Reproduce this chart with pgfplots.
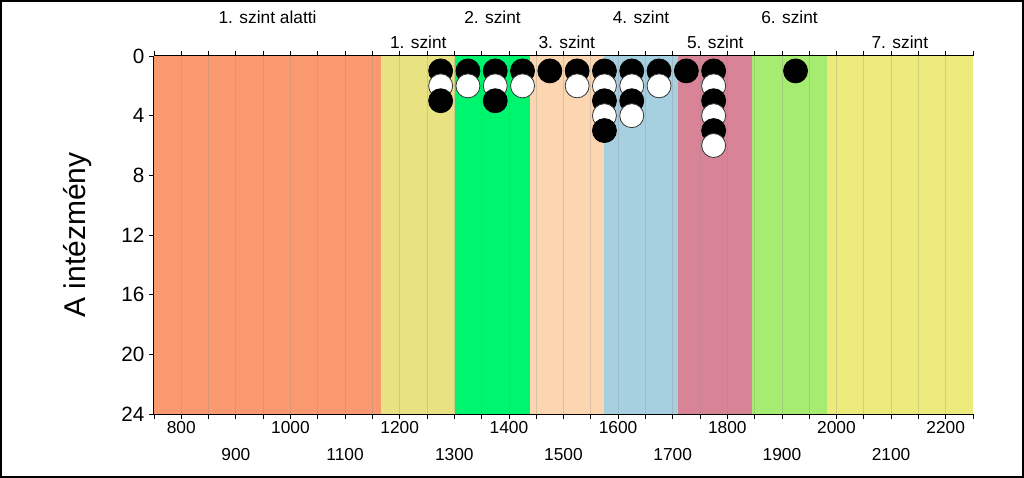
\documentclass[border=0pt]{standalone}
\usepackage{pgfplots}
\pgfplotsset{compat=1.18}
\usepackage{fontspec}
\setmainfont{Liberation Sans}
\definecolor{bOrange}{RGB}{250,152,112}
\definecolor{bYellowA}{RGB}{232,226,130}
\definecolor{bGreen}{RGB}{0,245,110}
\definecolor{bPeach}{RGB}{252,214,176}
\definecolor{bBlue}{RGB}{166,208,224}
\definecolor{bPink}{RGB}{216,132,150}
\definecolor{bLGreen}{RGB}{166,236,112}
\definecolor{bYellowB}{RGB}{236,234,122}
\begin{document}
\begin{tikzpicture}
\begin{axis}[
  scale only axis, width=614.25pt, height=268.5pt,
  at={(0pt,0pt)}, anchor=south west,
  xmin=750, xmax=2250, ymin=0, ymax=24, y dir=reverse,
  axis y line*=left,
  clip=false,
  xtick={800,1000,...,2200},
  extra x ticks={900,1100,...,2100},
  extra x tick style={xticklabel style={yshift=-20.25pt}},
  minor xtick={750,800,...,2250},
  xtick pos=both, xticklabel pos=lower,
  tick align=outside,
  major tick length=3.75pt, minor tick length=3.75pt,
  ytick={0,4,...,24},
  /pgf/number format/assume math mode=true,
  /pgf/number format/1000 sep={},
  xticklabel style={font=\fontsize{13}{15}\selectfont, yshift=1.5pt},
  yticklabel style={font=\fontsize{15.5}{18}\selectfont},
  ylabel={A intézmény},
  ylabel style={font=\fontsize{22.5}{26}\selectfont, at={(axis description cs:-0.0928,0.5)}, anchor=center},
  axis line style={line width=0.8pt},
  every tick/.style={black, line width=0.6pt},
]
\addplot[draw=none, fill=bOrange] coordinates {(750,0) (1166,0) (1166,24) (750,24)} -- cycle;
\addplot[draw=none, fill=bYellowA] coordinates {(1166,0) (1302,0) (1302,24) (1166,24)} -- cycle;
\addplot[draw=none, fill=bGreen] coordinates {(1302,0) (1438,0) (1438,24) (1302,24)} -- cycle;
\addplot[draw=none, fill=bPeach] coordinates {(1438,0) (1574,0) (1574,24) (1438,24)} -- cycle;
\addplot[draw=none, fill=bBlue] coordinates {(1574,0) (1710,0) (1710,24) (1574,24)} -- cycle;
\addplot[draw=none, fill=bPink] coordinates {(1710,0) (1846,0) (1846,24) (1710,24)} -- cycle;
\addplot[draw=none, fill=bLGreen] coordinates {(1846,0) (1982,0) (1982,24) (1846,24)} -- cycle;
\addplot[draw=none, fill=bYellowB] coordinates {(1982,0) (2250,0) (2250,24) (1982,24)} -- cycle;
% vertical grid lines every 50
\addplot[ycomb, no marks, draw=black!45, draw opacity=0.3, line width=0.6pt] coordinates {
 (800,24) (850,24) (900,24) (950,24) (1000,24) (1050,24) (1100,24) (1150,24) (1200,24) (1250,24)
 (1300,24) (1350,24) (1400,24) (1450,24) (1500,24) (1550,24) (1600,24) (1650,24) (1700,24)
 (1750,24) (1800,24) (1850,24) (1900,24) (1950,24) (2000,24) (2050,24) (2100,24) (2150,24) (2200,24)};
% markers, row by row
\addplot[only marks, mark=*, mark size=9pt, mark options={fill=black, draw=black, line width=0.6pt}] coordinates {
 (1275,1) (1325,1) (1375,1) (1425,1) (1475,1) (1525,1) (1575,1) (1625,1) (1675,1) (1725,1) (1775,1) (1925,1)};
\addplot[only marks, mark=*, mark size=9pt, mark options={fill=white, draw=black!80, line width=0.6pt}] coordinates {
 (1275,2) (1325,2) (1375,2) (1425,2) (1525,2) (1575,2) (1625,2) (1675,2) (1775,2)};
\addplot[only marks, mark=*, mark size=9pt, mark options={fill=black, draw=black, line width=0.6pt}] coordinates {
 (1275,3) (1375,3) (1575,3) (1625,3) (1775,3)};
\addplot[only marks, mark=*, mark size=9pt, mark options={fill=white, draw=black!80, line width=0.6pt}] coordinates {
 (1575,4) (1625,4) (1775,4)};
\addplot[only marks, mark=*, mark size=9pt, mark options={fill=black, draw=black, line width=0.6pt}] coordinates {
 (1575,5) (1775,5)};
\addplot[only marks, mark=*, mark size=9pt, mark options={fill=white, draw=black!80, line width=0.6pt}] coordinates {
 (1775,6)};
% band labels
\begin{scope}[every node/.style={font=\fontsize{13}{15}\selectfont, anchor=base}]
\node at (axis cs:958,0) [yshift=24.75pt] {1. szint alatti};
\node at (axis cs:1234,0) [yshift=6pt] {1. szint};
\node at (axis cs:1370,0) [yshift=24.75pt] {2. szint};
\node at (axis cs:1506,0) [yshift=6pt] {3. szint};
\node at (axis cs:1642,0) [yshift=24.75pt] {4. szint};
\node at (axis cs:1778,0) [yshift=6pt] {5. szint};
\node at (axis cs:1914,0) [yshift=24.75pt] {6. szint};
\node at (axis cs:2116,0) [yshift=6pt] {7. szint};
\end{scope}
\end{axis}
\draw[line width=1.75pt] (-114.625pt,-47.125pt) rectangle (651.625pt,309.625pt);
\path (-115.5pt,-48pt) rectangle (652.5pt,310.5pt);
\end{tikzpicture}
\end{document}
